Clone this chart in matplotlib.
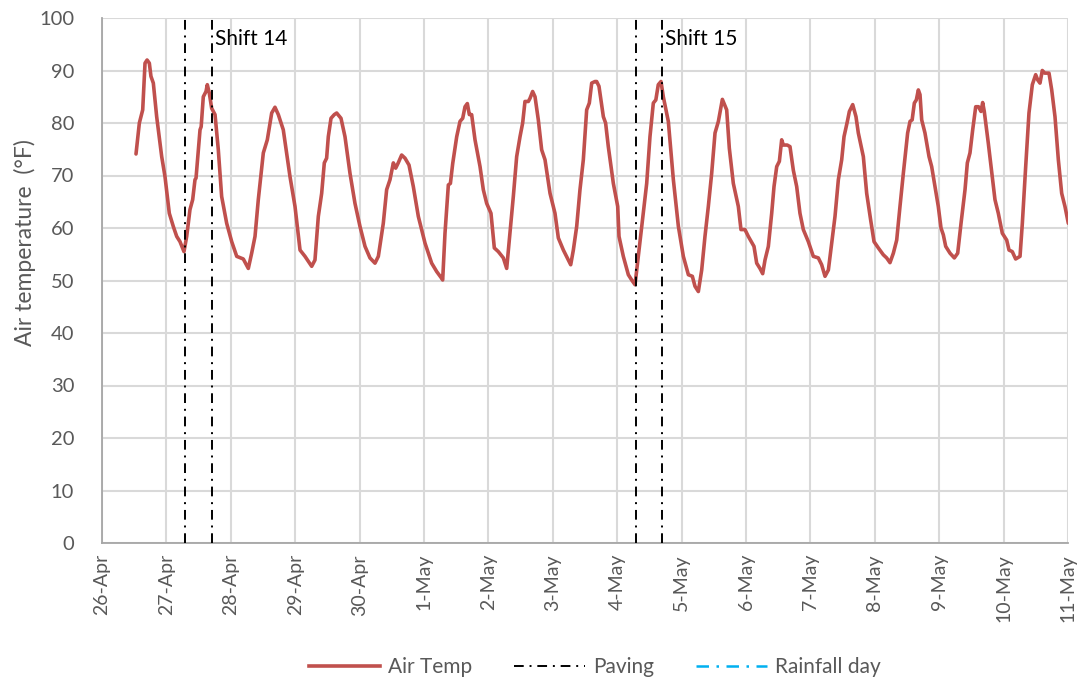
import matplotlib
matplotlib.use("Agg")
import matplotlib.pyplot as plt
from matplotlib.lines import Line2D

# ---- data ----
day_labels = ["26-Apr", "27-Apr", "28-Apr", "29-Apr", "30-Apr", "1-May", "2-May",
              "3-May", "4-May", "5-May", "6-May", "7-May", "8-May", "9-May",
              "10-May", "11-May"]

# time in days since 26-Apr 00:00
time_days = [
    0.528, 0.58, 0.632, 0.668, 0.70, 0.735, 0.76, 0.797, 0.849, 0.927, 0.978, 1.014, 1.045,
    1.107, 1.16, 1.211, 1.273, 1.315, 1.366, 1.408, 1.444, 1.46, 1.522, 1.54, 1.573, 1.615,
    1.635, 1.666, 1.703, 1.755, 1.806, 1.858, 1.936, 2.014, 2.092, 2.194, 2.272, 2.324, 2.376,
    2.427, 2.505, 2.567, 2.635, 2.686, 2.738, 2.815, 2.919, 2.997, 3.075, 3.152, 3.256,
    3.307, 3.359, 3.411, 3.452, 3.488, 3.514, 3.556, 3.607, 3.644, 3.711, 3.773, 3.851,
    3.928, 4.006, 4.084, 4.161, 4.239, 4.291, 4.368, 4.42, 4.472, 4.524, 4.56, 4.6, 4.653,
    4.705, 4.767, 4.834, 4.912, 5.016, 5.119, 5.197, 5.275, 5.29, 5.326, 5.378, 5.41,
    5.446, 5.508, 5.559, 5.601, 5.637, 5.673, 5.704, 5.74, 5.792, 5.87, 5.921, 5.973,
    6.04, 6.092, 6.154, 6.232, 6.284, 6.335, 6.387, 6.439, 6.491, 6.532, 6.568, 6.62,
    6.646, 6.687, 6.724, 6.775, 6.827, 6.879, 6.957, 7.034, 7.086, 7.164, 7.241, 7.278,
    7.319, 7.371, 7.422, 7.474, 7.526, 7.567, 7.604, 7.655, 7.681, 7.717, 7.785, 7.82,
    7.862, 7.94, 8.008, 8.028, 8.095, 8.173, 8.225, 8.277, 8.328, 8.406, 8.458, 8.509,
    8.561, 8.60, 8.638, 8.68, 8.716, 8.794, 8.872, 8.95, 9.027, 9.105, 9.167, 9.208,
    9.26, 9.312, 9.363, 9.415, 9.467, 9.519, 9.571, 9.633, 9.7, 9.741, 9.803, 9.881,
    9.922, 9.984, 10.036, 10.124, 10.166, 10.217, 10.259, 10.295, 10.347, 10.399, 10.435,
    10.477, 10.518, 10.554, 10.58, 10.64, 10.683, 10.735, 10.787, 10.838, 10.89, 10.968,
    11.045, 11.123, 11.175, 11.227, 11.279, 11.331, 11.382, 11.434, 11.486, 11.522,
    11.574, 11.605, 11.657, 11.708, 11.744, 11.822, 11.874, 11.936, 11.988, 12.055,
    12.132, 12.184, 12.236, 12.288, 12.34, 12.391, 12.443, 12.51, 12.547, 12.58, 12.614,
    12.645, 12.676, 12.702, 12.728, 12.779, 12.842, 12.883, 12.935, 12.986, 13.028,
    13.064, 13.101, 13.168, 13.235, 13.287, 13.339, 13.401, 13.437, 13.478, 13.52,
    13.567, 13.61, 13.649, 13.675, 13.7, 13.762, 13.824, 13.866, 13.918, 13.98, 14.048,
    14.084, 14.135, 14.187, 14.255, 14.291, 14.343, 14.394, 14.446, 14.498, 14.53,
    14.565, 14.601, 14.64, 14.705, 14.747, 14.798, 14.85, 14.902, 14.953, 15.005,
]
air_temp_f = [
    74.1, 80.0, 82.5, 91.4, 92.0, 91.4, 88.9, 87.6, 81.2, 73.6, 69.8, 66.0, 62.8,
    60.3, 58.4, 57.4, 55.5, 58.4, 63.5, 65.4, 69.2, 69.5, 78.7, 79.3, 85.0, 86.0,
    87.3, 85.7, 82.8, 81.6, 74.9, 66.0, 60.9, 57.4, 54.6, 54.1, 52.3, 55.2, 58.4,
    65.4, 74.3, 76.8, 81.9, 83.0, 81.6, 78.7, 69.8, 64.1, 55.8, 54.6, 52.7,
    53.9, 62.2, 66.6, 72.4, 73.3, 77.4, 80.9, 81.6, 81.9, 80.9, 77.4, 70.4,
    64.7, 60.3, 56.5, 54.3, 53.3, 54.6, 60.9, 67.3, 69.2, 72.4, 71.4, 72.4, 73.9,
    73.3, 72.0, 67.9, 62.2, 57.1, 53.3, 51.7, 50.4, 50.1, 59.0, 68.2, 68.5,
    72.3, 77.4, 80.3, 80.9, 83.1, 83.7, 81.6, 81.6, 76.8, 71.7, 67.3, 64.7,
    62.8, 56.2, 55.5, 54.3, 52.3, 59.0, 66.0, 73.6, 77.4, 80.0, 84.1, 84.1,
    84.7, 86.0, 85.0, 80.6, 74.9, 73.0, 66.6, 62.8, 58.1, 55.8, 53.9, 53.0,
    55.8, 60.3, 67.3, 73.0, 82.5, 83.8, 87.6, 87.9, 87.9, 87.0, 81.2, 80.0,
    75.5, 68.5, 64.1, 58.4, 54.6, 51.1, 50.1, 49.2, 54.6, 62.8, 68.5, 77.4,
    83.8, 84.4, 87.3, 87.9, 85.0, 80.3, 69.2, 60.3, 54.6, 51.1, 50.8, 48.9,
    47.9, 52.0, 58.4, 64.1, 70.4, 78.1, 80.3, 84.5, 82.5, 75.2, 68.5, 64.1,
    59.7, 59.7, 58.4, 56.5, 53.3, 52.3, 51.3, 53.9, 56.5, 62.8, 67.9,
    71.7, 72.7, 76.8, 75.8, 75.8, 75.5, 71.0, 67.9, 62.8, 59.7, 57.4,
    54.6, 54.3, 53.0, 50.8, 52.0, 57.1, 62.2, 69.2, 73.0, 77.4,
    80.3, 82.2, 83.5, 81.2, 78.1, 73.6, 66.6, 61.5, 57.4, 56.2,
    54.9, 54.3, 53.4, 55.2, 57.7, 64.1, 70.4, 78.1, 80.3, 80.6, 83.8,
    84.4, 86.3, 85.4, 80.6, 78.1, 73.6, 71.7, 67.9, 64.1, 60.0,
    58.7, 56.5, 55.2, 54.3, 55.2, 60.9, 67.3, 72.4, 74.3, 78.7,
    83.1, 83.1, 82.2, 83.9, 82.2, 76.2, 69.8, 65.4, 62.8, 59.0, 57.7,
    55.8, 55.5, 54.1, 54.6, 60.9, 71.7, 81.9, 87.3, 89.2, 88.2,
    87.6, 90.0, 89.5, 89.5, 86.3, 81.2, 73.0, 66.6, 64.1, 60.9,
]

paving_days = [1.29, 1.71, 8.29, 8.70]
shift_labels = ["Shift 14", "Shift 15"]
shift_label_days = [1.71, 8.70]

# ---- figure ----
plt.rcParams['font.family'] = ['Lato', 'DejaVu Sans']
W, H = 1081, 684
fig = plt.figure(figsize=(W / 100, H / 100), dpi=100)
ax = fig.add_axes([102 / W, 1 - 543 / H, 966 / W, 525 / H])

red = '#c0504d'
grid_c = '#d9d9d9'
txt_c = '#595959'
dashdot = (0, (5, 3, 1, 3))

ax.plot(time_days, air_temp_f, color=red, lw=2.6, solid_joinstyle='round',
        solid_capstyle='round', zorder=3)

for d in paving_days:
    ax.plot([d, d], [0, 100], color='black', lw=1.4, linestyle=dashdot, zorder=4)

for lbl, d in zip(shift_labels, shift_label_days):
    ax.text(d + 0.04, 96, lbl, fontsize=15, color='black', va='center', ha='left')

ax.set_xlim(0, 15)
ax.set_ylim(0, 100)
ax.set_xticks(range(len(day_labels)))
ax.set_xticklabels(day_labels, rotation=90, fontsize=14, color=txt_c)
ax.set_yticks(range(0, 101, 10))
ax.tick_params(axis='y', labelsize=14.5, labelcolor=txt_c, length=0, pad=20)
ax.tick_params(axis='x', length=0, pad=8)
ax.grid(True, color=grid_c, lw=1.5, zorder=0)
ax.set_axisbelow(True)
for s in ['top', 'right']:
    ax.spines[s].set_visible(False)
for s in ['left', 'bottom']:
    ax.spines[s].set_color('#a6a6a6')
    ax.spines[s].set_linewidth(1.3)

fig.text(25 / W, 1 - 243 / H, 'Air temperature  (°F)', rotation=90, fontsize=16.5,
         color=txt_c, ha='center', va='center')

handles = [
    Line2D([], [], color=red, lw=2.6),
    Line2D([], [], color='black', lw=1.4, linestyle=dashdot),
    Line2D([], [], color='#00b0f0', lw=1.8, linestyle=dashdot),
]
fig.legend(handles, ['Air Temp', 'Paving', 'Rainfall day'], loc='center',
           bbox_to_anchor=(595 / W, 1 - 667 / H), ncol=3, frameon=False, fontsize=15,
           labelcolor=txt_c, handlelength=3.4, columnspacing=2.0, handletextpad=0.4)

fig.savefig('out.png', dpi=100)
